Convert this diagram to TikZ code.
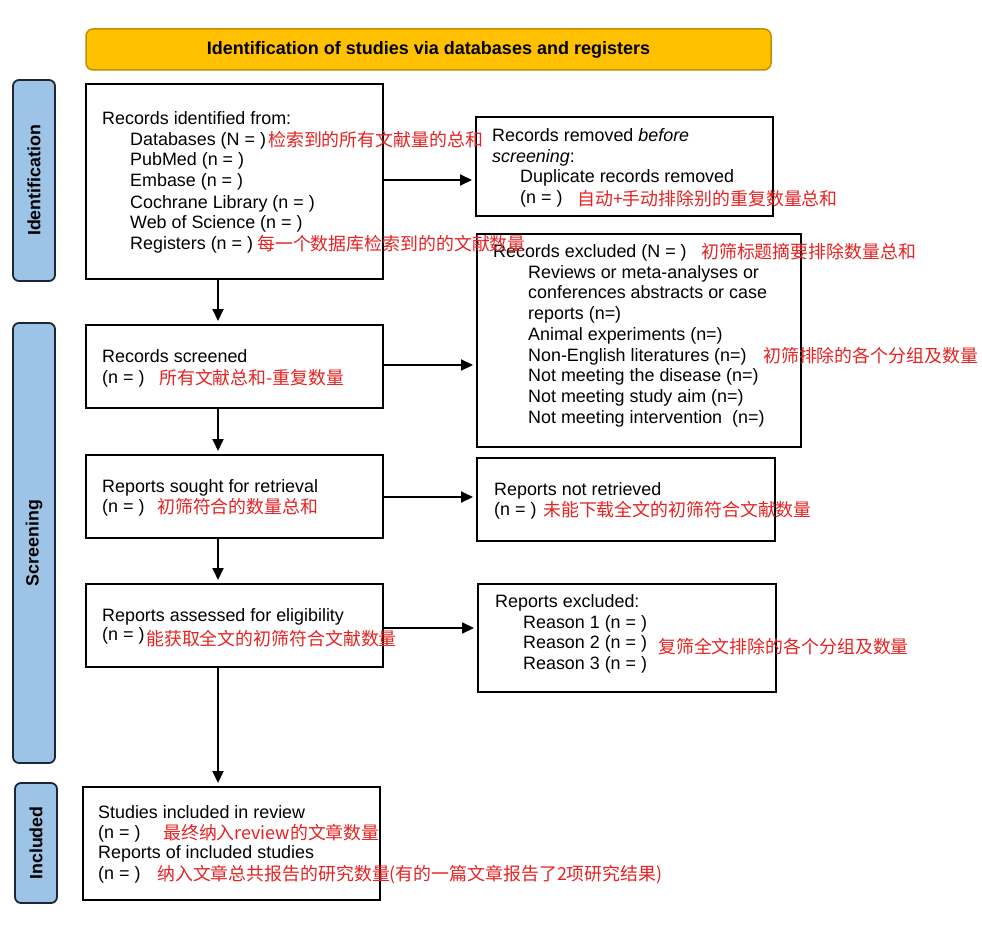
\documentclass[tikz,border=0pt]{standalone}
\usepackage{fontspec}
\setmainfont{Liberation Sans}
\newfontfamily\cjk{Noto Sans CJK SC}
\usetikzlibrary{arrows.meta,fit}
\definecolor{titlefill}{HTML}{FFC000}
\definecolor{titledraw}{HTML}{BF9000}
\definecolor{sidefill}{HTML}{9DC3E6}
\definecolor{sidedraw}{HTML}{1C2733}
\definecolor{annred}{HTML}{E62222}
\begin{document}
\begin{tikzpicture}[x=1pt,y=-1pt,
  box/.style={draw=black, line width=2pt, inner sep=0pt},
  sidebox/.style={draw=sidedraw, fill=sidefill, line width=1.8pt, rounded corners=6pt, inner sep=0pt},
  titlebox/.style={draw=titledraw, fill=titlefill, line width=1.5pt, rounded corners=7pt, inner sep=0pt},
  sidetxt/.style={rotate=90, inner sep=0pt, font=\bfseries\fontsize{17.8}{20}\selectfont},
  txt/.style={anchor=base west, inner sep=0pt, font=\fontsize{17.9}{20}\selectfont},
  ann/.style={anchor=base west, inner sep=0pt, text=annred, font=\cjk\fontsize{17.9}{20}\selectfont},
  arr/.style={line width=2pt, -{Triangle[length=12pt,width=11pt]}, shorten >=3pt}]
\useasboundingbox (0,0) rectangle (982,928);

% title and side bars
\node[titlebox, fit={(86,29) (771,70)}] (title) {};
\node[inner sep=0pt, font=\bfseries\fontsize{18}{20}\selectfont] (titletxt) at (title.center) {Identification of studies via databases and registers};
\node[sidebox, fit={(13,80) (55,281)}] (idside) {};
\node[sidetxt] (idlab) at (idside.center) {Identification};
\node[sidebox, fit={(13,323) (55,763)}] (scside) {};
\node[sidetxt] (sclab) at (scside.center) {Screening};
\node[sidebox, fit={(15,783) (57,903)}] (inside) {};
\node[sidetxt] (inlab) at (inside.center) {Included};

% boxes
\node[box, fit={(86,84) (383,279)}] (ident) {};
\node[box, fit={(476,117) (773,216)}] (removed) {};
\node[box, fit={(477,234) (801,447)}] (excluded) {};
\node[box, fit={(86,325) (383,408)}] (screened) {};
\node[box, fit={(86,455) (383,538)}] (sought) {};
\node[box, fit={(477,458) (775,541)}] (notret) {};
\node[box, fit={(86,584) (383,667)}] (assessed) {};
\node[box, fit={(478,584) (776,692)}] (repexcl) {};
\node[box, fit={(83,787) (380,900)}] (included) {};

% identified
\node[txt] (t1a) at (102,125) {Records identified from:};
\node[txt] (t1b) at (130,146) {Databases (N = )};
\node[txt] (t1c) at (130,166) {PubMed (n = )};
\node[txt] (t1d) at (130,187) {Embase (n = )};
\node[txt] (t1e) at (130,208) {Cochrane Library (n = )};
\node[txt] (t1f) at (130,228) {Web of Science (n = )};
\node[txt] (t1g) at (130,249) {Registers (n = )};

% removed
\node[txt] (t2a) at (492,142) {Records removed \textit{before}};
\node[txt] (t2b) at (492,163) {\textit{screening}:};
\node[txt] (t2c) at (520,183) {Duplicate records removed};
\node[txt] (t2d) at (520,204) {(n = )};

% excluded
\node[txt] (t3a) at (493,257) {Records excluded (N = )};
\node[txt] (t3b) at (528,278) {Reviews or meta-analyses or};
\node[txt] (t3c) at (528,298) {conferences abstracts or case};
\node[txt] (t3d) at (528,319) {reports (n=)};
\node[txt] (t3e) at (528,340) {Animal experiments (n=)};
\node[txt] (t3f) at (528,361) {Non-English literatures (n=)};
\node[txt] (t3g) at (528,381) {Not meeting the disease (n=)};
\node[txt] (t3h) at (528,402) {Not meeting study aim (n=)};
\node[txt] (t3i) at (528,423) {Not meeting intervention\ \ (n=)};

% screened
\node[txt] (t4a) at (102,362) {Records screened};
\node[txt] (t4b) at (102,383) {(n = )};

% sought
\node[txt] (t5a) at (102,492) {Reports sought for retrieval};
\node[txt] (t5b) at (102,512) {(n = )};

% not retrieved
\node[txt] (t6a) at (494,495) {Reports not retrieved};
\node[txt] (t6b) at (494,515) {(n = )};

% assessed
\node[txt] (t7a) at (102,621) {Reports assessed for eligibility};
\node[txt] (t7b) at (102,640) {(n = )};

% reports excluded
\node[txt] (t8a) at (495,607) {Reports excluded:};
\node[txt] (t8b) at (523,628) {Reason 1 (n = )};
\node[txt] (t8c) at (523,648) {Reason 2 (n = )};
\node[txt] (t8d) at (523,669) {Reason 3 (n = )};

% included
\node[txt] (t9a) at (98,818) {Studies included in review};
\node[txt] (t9b) at (98,838) {(n = )};
\node[txt] (t9c) at (98,858) {Reports of included studies};
\node[txt] (t9d) at (98,879) {(n = )};

% red annotations
\node[ann] (a1) at (268,147) {检索到的所有文献量的总和};
\node[ann] (a2) at (257,250) {每一个数据库检索到的的文献数量};
\node[ann] (a3) at (577,205) {自动+手动排除别的重复数量总和};
\node[ann] (a4) at (701,258) {初筛标题摘要排除数量总和};
\node[ann] (a5) at (763,362) {初筛排除的各个分组及数量};
\node[ann] (a6) at (159,384) {所有文献总和-重复数量};
\node[ann] (a7) at (157,513) {初筛符合的数量总和};
\node[ann] (a8) at (543,516) {未能下载全文的初筛符合文献数量};
\node[ann] (a9) at (146,645) {能获取全文的初筛符合文献数量};
\node[ann] (a10) at (658,653) {复筛全文排除的各个分组及数量};
\node[ann] (a11) at (163,839) {最终纳入review的文章数量};
\node[ann] (a12) at (157,880) {纳入文章总共报告的研究数量(有的一篇文章报告了2项研究结果)};

% connectors
\coordinate (vx) at (218,0);
\coordinate (h1) at (0,180);
\coordinate (h2) at (0,365);
\coordinate (h3) at (0,497);
\coordinate (h4) at (0,628);
\draw[arr] (ident.south -| vx) -- (screened.north -| vx);
\draw[arr] (screened.south -| vx) -- (sought.north -| vx);
\draw[arr] (sought.south -| vx) -- (assessed.north -| vx);
\draw[arr] (assessed.south -| vx) -- (included.north -| vx);
\draw[arr] (ident.east |- h1) -- (removed.west |- h1);
\draw[arr] (screened.east |- h2) -- (excluded.west |- h2);
\draw[arr] (sought.east |- h3) -- (notret.west |- h3);
\draw[arr] (assessed.east |- h4) -- (repexcl.west |- h4);
\end{tikzpicture}
\end{document}
